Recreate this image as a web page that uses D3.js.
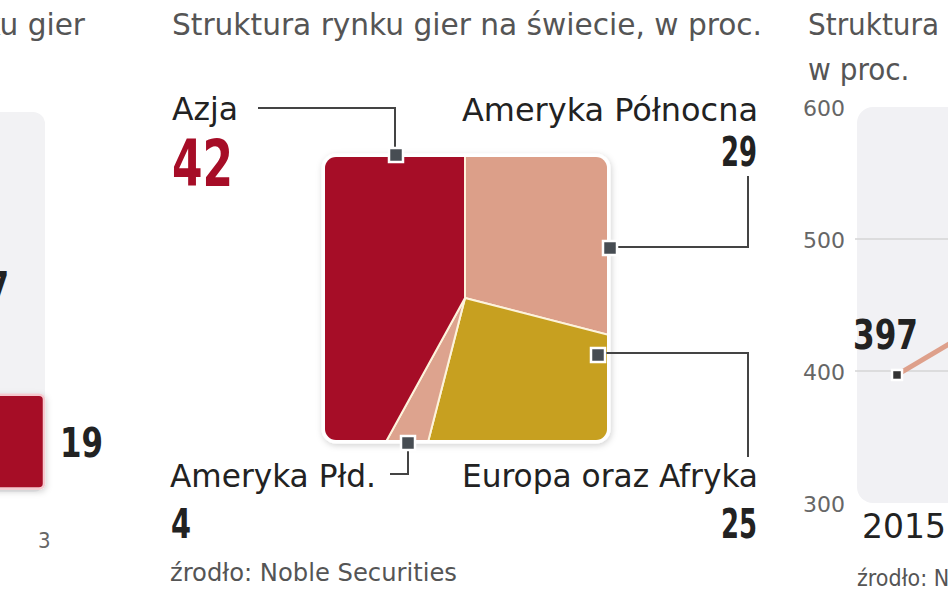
<!DOCTYPE html>
<html>
<head>
<meta charset="utf-8">
<script src="https://cdn.jsdelivr.net/npm/d3@7"></script>
<style>
  body { margin: 0; background: #fff; }
  svg { display: block; }
  text { font-family: 'Liberation Sans Narrow', 'DejaVu Sans Condensed', Roboto, sans-serif; }
</style>
</head>
<body>
<svg id="viz"></svg>
<script>
var width = 948;
var height = 593;

// pie: share of the world games market, %
var regions = ["Ameryka Północna", "Europa oraz Afryka", "Ameryka Płd.", "Azja"];
var shares = [29, 25, 4, 42];
var regionColors = ["#dc9f89", "#c7a020", "#dda38e", "#a60d27"];

// left (cut off) panel
var leftCats = ["a", "b"];
var leftValues = [27, 19];

// right (cut off) panel
var lineYears = ["2015", "2016"];
var lineValues = [397, 442];
var lineTicks = [300, 400, 500, 600];

var svg = d3.select("#viz").attr("width", width).attr("height", height);
svg.append("rect").attr("width", width).attr("height", height).attr("fill", "#fff");

var defs = svg.append("defs");
var shadow = defs.append("filter").attr("id", "shadow")
  .attr("x", "-10%").attr("y", "-10%").attr("width", "130%").attr("height", "130%");
shadow.append("feDropShadow").attr("dx", 1).attr("dy", 2).attr("stdDeviation", 3)
  .attr("flood-color", "#000").attr("flood-opacity", 0.18);

function fitText(sel, w) {
  sel.attr("textLength", w).attr("lengthAdjust", "spacingAndGlyphs");
}

// ---------- left panel (cropped) ----------
var left = svg.append("g");
left.append("text").attr("x", 85).attr("y", 35).attr("text-anchor", "end")
  .style("font-size", "31px").style("fill", "#555").text("rynku gier")
  .call(fitText, 150);

left.append("rect").attr("x", -30).attr("y", 112).attr("width", 75).attr("height", 380)
  .attr("rx", 12).attr("fill", "#f2f2f4");

var ly = d3.scaleBand().domain(leftCats).range([280, 499]).padding(0.1);
var lx = d3.scaleLinear().domain([0, 19]).range([-40, 44]);

left.append("text").attr("x", 9).attr("y", 301).attr("text-anchor", "end")
  .style("font-size", "40px").style("font-weight", "bold").style("fill", "#222")
  .text(leftValues[0]).call(fitText, 42);

left.append("rect")
  .attr("x", -40).attr("y", ly("b")).attr("width", lx(leftValues[1]) + 40).attr("height", ly.bandwidth())
  .attr("rx", 5).attr("fill", "#a60d27").attr("stroke", "#f5c9cf").attr("stroke-width", 2.5)
  .attr("filter", "url(#shadow)");
left.append("text").attr("x", lx(leftValues[1]) + 16).attr("y", ly("b") + ly.bandwidth() / 2 + 15)
  .style("font-size", "40px").style("font-weight", "bold").style("fill", "#222")
  .text(leftValues[1]).call(fitText, 43);
left.append("text").attr("x", 38).attr("y", 548)
  .style("font-size", "22px").style("fill", "#666").text("3");

// ---------- centre: pie ----------
var title = svg.append("text").attr("x", 172).attr("y", 35)
  .style("font-size", "31px").style("fill", "#555")
  .text("Struktura rynku gier na świecie, w proc.");
fitText(title, 590);

var box = { x: 325, y: 157, w: 282, h: 283 };
var cx = 465, cy = 298;

defs.append("clipPath").attr("id", "boxclip")
  .append("rect").attr("x", box.x).attr("y", box.y).attr("width", box.w).attr("height", box.h).attr("rx", 11);

svg.append("rect").attr("x", box.x).attr("y", box.y).attr("width", box.w).attr("height", box.h)
  .attr("rx", 11).attr("fill", "#fff").attr("stroke", "#fff").attr("stroke-width", 7)
  .attr("filter", "url(#shadow)");

var pie = d3.pie().sort(null).value(function(d) { return d; });
var arc = d3.arc().innerRadius(0).outerRadius(260);

svg.append("g").attr("clip-path", "url(#boxclip)")
  .append("g")
  .attr("transform", "translate(" + cx + "," + cy + ")")
  .selectAll("path")
  .data(pie(shares))
  .enter()
  .append("path")
  .attr("d", arc)
  .attr("fill", function(d, i) { return regionColors[i]; })
  .attr("stroke", "#fdf3dc")
  .attr("stroke-width", 2);

// leader lines
var leaders = [
  "M616,247 H748 V176",
  "M606,353 H748 V457",
  "M408,450 V474 H390",
  "M258,108 H395 V150"
];
svg.append("g").selectAll("path")
  .data(leaders)
  .enter()
  .append("path")
  .attr("d", function(d) { return d; })
  .attr("fill", "none")
  .attr("stroke", "#444")
  .attr("stroke-width", 2);

// markers on the box edge
var markerPos = [[610, 248], [598, 355], [408, 443], [396, 155]];
svg.append("g").selectAll("rect")
  .data(markerPos)
  .enter()
  .append("rect")
  .attr("x", function(d) { return d[0] - 7; })
  .attr("y", function(d) { return d[1] - 7; })
  .attr("width", 14).attr("height", 14)
  .attr("fill", "#474d53").attr("stroke", "#fff").attr("stroke-width", 2.5);

// labels
var labelName = [
  { x: 758, y: 121, anchor: "end", w: 296 },
  { x: 758, y: 487, anchor: "end", w: 296 },
  { x: 170, y: 487, anchor: "start", w: 206 },
  { x: 172, y: 120, anchor: "start", w: 66 }
];
var labelVal = [
  { x: 757, y: 166, anchor: "end", size: 40, color: "#222", w: 36 },
  { x: 757, y: 538, anchor: "end", size: 40, color: "#222", w: 36 },
  { x: 171, y: 538, anchor: "start", size: 40, color: "#222", w: 20 },
  { x: 172, y: 186, anchor: "start", size: 64, color: "#a60d27", w: 61 }
];

regions.forEach(function(r, i) {
  var n = labelName[i], v = labelVal[i];
  svg.append("text").attr("x", n.x).attr("y", n.y).attr("text-anchor", n.anchor)
    .style("font-size", "32px").style("fill", "#222")
    .text(r).call(fitText, n.w);
  svg.append("text").attr("x", v.x).attr("y", v.y).attr("text-anchor", v.anchor)
    .style("font-size", v.size + "px").style("font-weight", "bold").style("fill", v.color)
    .text(shares[i]).call(fitText, v.w);
});

svg.append("text").attr("x", 170).attr("y", 581)
  .style("font-size", "24px").style("fill", "#555")
  .text("źrodło: Noble Securities").call(fitText, 287);

// ---------- right panel (cropped) ----------
var right = svg.append("g");
right.append("text").attr("x", 808).attr("y", 35)
  .style("font-size", "31px").style("fill", "#555").text("Struktura rynku gier");
right.append("text").attr("x", 808).attr("y", 80)
  .style("font-size", "31px").style("fill", "#555").text("w  proc.");

var y = d3.scaleLinear().domain([300, 600]).range([503, 107]);
var x = d3.scalePoint().domain(lineYears).range([897, 997]);

right.append("rect").attr("x", 857).attr("y", y(600)).attr("width", 130).attr("height", y(300) - y(600))
  .attr("rx", 16).attr("fill", "#f1f1f4");

right.append("g").selectAll("line")
  .data([400, 500])
  .enter()
  .append("line")
  .attr("x1", 855).attr("x2", width)
  .attr("y1", function(d) { return y(d); })
  .attr("y2", function(d) { return y(d); })
  .attr("stroke", "#d4d4d6").attr("stroke-width", 1.5);

right.append("g").selectAll("text")
  .data(lineTicks)
  .enter()
  .append("text")
  .attr("x", 803)
  .attr("y", function(d) { return y(d) + 9; })
  .style("font-family", "'DejaVu Sans', sans-serif")
  .style("font-size", "22px").style("fill", "#666")
  .text(function(d) { return d; });

var line = d3.line()
  .x(function(d, i) { return x(lineYears[i]); })
  .y(function(d) { return y(d); });

right.append("path").datum(lineValues)
  .attr("d", line)
  .attr("fill", "none").attr("stroke", "#dea08b").attr("stroke-width", 5);

right.append("rect")
  .attr("x", x(lineYears[0]) - 5).attr("y", y(lineValues[0]) - 5)
  .attr("width", 10).attr("height", 10)
  .attr("fill", "#333").attr("stroke", "#fff").attr("stroke-width", 2.5);

right.append("text").attr("x", 853).attr("y", 349)
  .style("font-size", "40px").style("font-weight", "bold").style("fill", "#222")
  .text(lineValues[0]).call(fitText, 65);

right.append("text").attr("x", 862).attr("y", 538)
  .style("font-family", "'DejaVu Sans', sans-serif")
  .style("font-size", "33px").style("fill", "#222")
  .text(lineYears[0]);

right.append("text").attr("x", 857).attr("y", 586)
  .style("font-size", "23px").style("fill", "#555")
  .text("źrodło: Newzoo");
</script>
</body>
</html>
